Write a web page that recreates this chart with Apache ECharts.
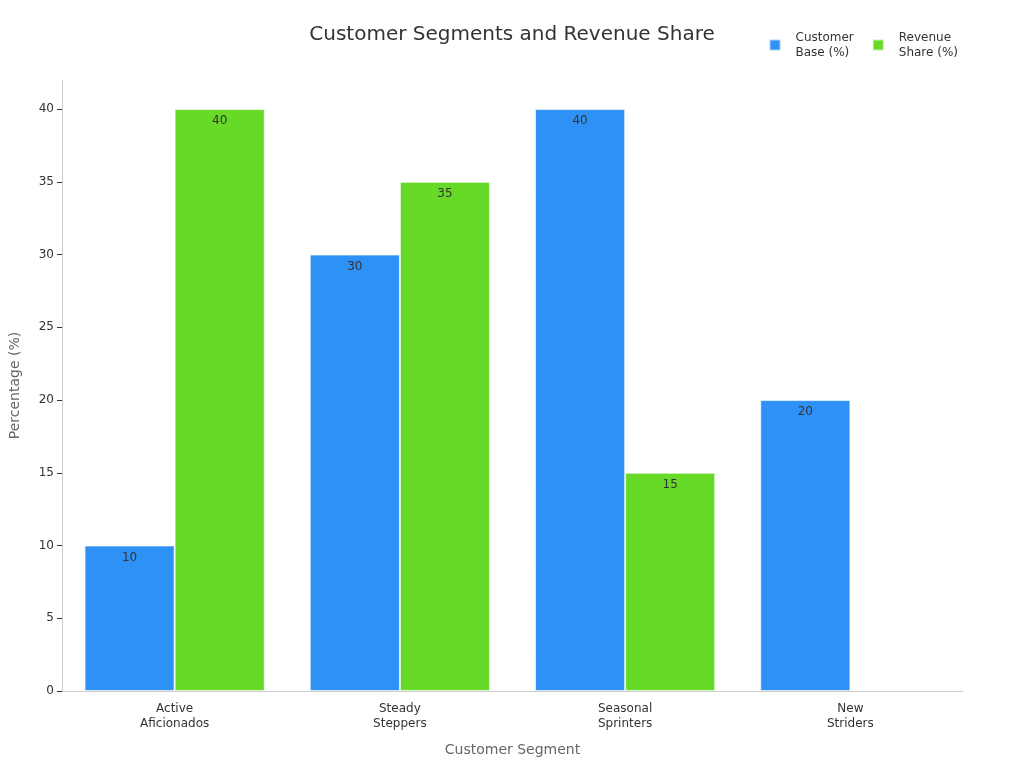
<!DOCTYPE html>
<html>
<head>
<meta charset="utf-8">
<script src="https://cdn.jsdelivr.net/npm/echarts@6/dist/echarts.min.js"></script>
<style>
  html, body { margin: 0; padding: 0; background: #fff; }
  #chart { width: 1024px; height: 768px; }
</style>
</head>
<body>
<div id="chart"></div>
<script>
const segments = ['Active\nAficionados', 'Steady\nSteppers', 'Seasonal\nSprinters', 'New\nStriders']
const customerBase = [10, 30, 40, 20]
const revenueShare = [40, 35, 15, 0]
const yTicks = [0, 5, 10, 15, 20, 25, 30, 35, 40]

const font = 'DejaVu Sans'
const chart = echarts.init(document.getElementById('chart'))

// zero values draw no bar at all
const asBars = (arr) => arr.map((v) => (v === 0 ? '-' : v))

const barLabel = {
  show: true,
  position: 'insideTop',
  distance: 6,
  color: '#333',
  fontSize: 12,
  fontFamily: font,
}

chart.setOption({
  backgroundColor: '#fff',
  textStyle: { fontFamily: font },
  title: {
    text: 'Customer Segments and Revenue Share',
    left: 'center',
    top: 20,
    textStyle: { fontSize: 20, fontWeight: 'normal', color: '#333', fontFamily: font },
  },
  legend: {
    right: 61,
    top: 25,
    itemWidth: 11,
    itemHeight: 11,
    itemGap: 18,
    icon: 'rect',
    textStyle: { fontSize: 12, color: '#333', lineHeight: 15, fontFamily: font, padding: [0, 0, 0, 10] },
    formatter: (name) => name.replace(' ', '\n'),
    data: ['Customer Base (%)', 'Revenue Share (%)'],
  },
  grid: { left: 60, right: 61, top: 80, bottom: 77 },
  xAxis: {
    type: 'category',
    data: segments,
    name: 'Customer Segment',
    nameLocation: 'middle',
    nameGap: 52,
    nameTextStyle: { fontSize: 14, color: '#666', fontFamily: font },
    axisLine: { lineStyle: { color: '#ccc' } },
    axisTick: { alignWithLabel: true, lineStyle: { color: '#666' } },
    axisLabel: { color: '#333', fontSize: 12, lineHeight: 15, margin: 10, fontFamily: font },
  },
  yAxis: {
    type: 'value',
    min: 0,
    max: 42,
    name: 'Percentage (%)',
    nameLocation: 'middle',
    nameGap: 40,
    nameTextStyle: { fontSize: 14, color: '#666', fontFamily: font },
    axisLine: { show: true, lineStyle: { color: '#ccc' } },
    axisTick: { show: true, length: 5, lineStyle: { color: '#333' }, customValues: yTicks },
    axisLabel: { color: '#333', fontSize: 12, margin: 8, fontFamily: font, customValues: yTicks },
    splitLine: { show: false },
  },
  series: [
    {
      name: 'Customer Base (%)',
      type: 'bar',
      data: asBars(customerBase),
      barGap: '0%',
      barCategoryGap: '20%',
      itemStyle: { color: '#2e91f5', borderColor: 'rgba(255,255,255,0.6)', borderWidth: 1 },
      label: barLabel,
    },
    {
      name: 'Revenue Share (%)',
      type: 'bar',
      data: asBars(revenueShare),
      itemStyle: { color: '#67da28', borderColor: 'rgba(255,255,255,0.6)', borderWidth: 1 },
      label: barLabel,
    },
  ],
})
</script>
</body>
</html>
